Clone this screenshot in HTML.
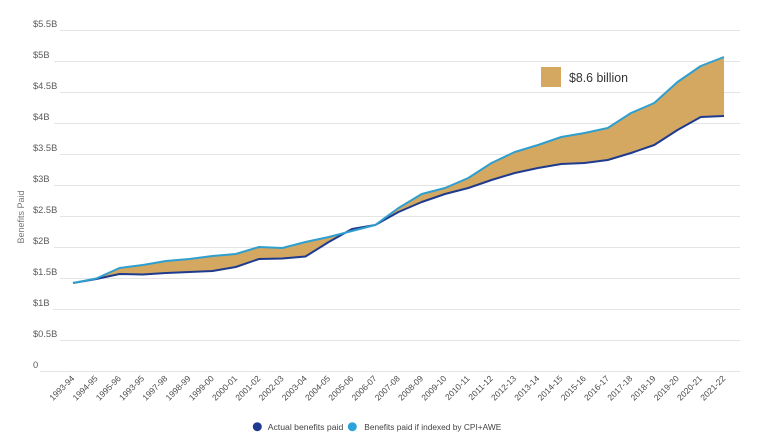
<!DOCTYPE html>
<html><head><meta charset="utf-8"><style>
html,body{margin:0;padding:0;background:#fff;}
svg{display:block;font-family:"Liberation Sans",Arial,sans-serif;}
</style></head><body>
<svg width="760" height="446" viewBox="0 0 760 446" xmlns="http://www.w3.org/2000/svg">
<rect width="760" height="446" fill="#fff"/>
<g stroke="#e4e4e4" stroke-width="1">
<line x1="40" y1="371.5" x2="740" y2="371.5"/>
<line x1="60" y1="340.5" x2="740" y2="340.5"/>
<line x1="53" y1="309.5" x2="740" y2="309.5"/>
<line x1="60" y1="278.5" x2="740" y2="278.5"/>
<line x1="54" y1="247.5" x2="740" y2="247.5"/>
<line x1="60" y1="216.5" x2="740" y2="216.5"/>
<line x1="54" y1="185.5" x2="740" y2="185.5"/>
<line x1="60" y1="154.5" x2="740" y2="154.5"/>
<line x1="54" y1="123.5" x2="740" y2="123.5"/>
<line x1="60" y1="92.5" x2="740" y2="92.5"/>
<line x1="54" y1="61.5" x2="740" y2="61.5"/>
<line x1="60" y1="30.5" x2="740" y2="30.5"/>
</g>
<g font-size="9.3" fill="#5a5a5a">
<text x="33" y="368">0</text>
<text x="33" y="337">$0.5B</text>
<text x="33" y="306">$1B</text>
<text x="33" y="275">$1.5B</text>
<text x="33" y="244">$2B</text>
<text x="33" y="213">$2.5B</text>
<text x="33" y="182">$3B</text>
<text x="33" y="151">$3.5B</text>
<text x="33" y="120">$4B</text>
<text x="33" y="89">$4.5B</text>
<text x="33" y="58">$5B</text>
<text x="33" y="27">$5.5B</text>
</g>
<text transform="translate(24,217) rotate(-90)" text-anchor="middle" font-size="9" fill="#777">Benefits Paid</text>

<polygon fill="#d4a860" points="73,283 96.25,278.5 119.5,268 142.75,265 166,261 189.25,259 212.5,256 235.75,254 259,247 282.25,248 305.5,242 328.75,237 352,231 375.25,225 398.5,208 421.75,194 445,188 468.25,178 491.5,163 514.75,152 538,145 561.25,137 584.5,133 607.75,128 631,113 654.25,103 677.5,82 700.75,66 724,57 724,116 700.75,117 677.5,130 654.25,145 631,153 607.75,160 584.5,163 561.25,164 538,168 514.75,173 491.5,180 468.25,188 445,194 421.75,202 398.5,212 375.25,225 352,229 328.75,242 305.5,256.5 282.25,258.5 259,259 235.75,267 212.5,271 189.25,272 166,273 142.75,274.5 119.5,274 96.25,279 73,283"/>
<polyline fill="none" stroke="#1f3b8f" stroke-width="2" stroke-linejoin="round" points="73,283 96.25,279 119.5,274 142.75,274.5 166,273 189.25,272 212.5,271 235.75,267 259,259 282.25,258.5 305.5,256.5 328.75,242 352,229 375.25,225 398.5,212 421.75,202 445,194 468.25,188 491.5,180 514.75,173 538,168 561.25,164 584.5,163 607.75,160 631,153 654.25,145 677.5,130 700.75,117 724,116"/>
<polyline fill="none" stroke="#2e9fcf" stroke-width="2" stroke-linejoin="round" points="73,283 96.25,278.5 119.5,268 142.75,265 166,261 189.25,259 212.5,256 235.75,254 259,247 282.25,248 305.5,242 328.75,237 352,231 375.25,225 398.5,208 421.75,194 445,188 468.25,178 491.5,163 514.75,152 538,145 561.25,137 584.5,133 607.75,128 631,113 654.25,103 677.5,82 700.75,66 724,57"/>

<rect x="541" y="67" width="20" height="20" fill="#d4a860"/>
<text x="569" y="82" font-size="12.5" fill="#333" textLength="59" lengthAdjust="spacingAndGlyphs">$8.6 billion</text>

<g font-size="8.5" fill="#4a4a4a" text-anchor="end">
<text transform="translate(75,379) rotate(-45)">1993-94</text>
<text transform="translate(98.25,379) rotate(-45)">1994-95</text>
<text transform="translate(121.5,379) rotate(-45)">1995-96</text>
<text transform="translate(144.75,379) rotate(-45)">1993-95</text>
<text transform="translate(168,379) rotate(-45)">1997-98</text>
<text transform="translate(191.25,379) rotate(-45)">1998-99</text>
<text transform="translate(214.5,379) rotate(-45)">1999-00</text>
<text transform="translate(237.75,379) rotate(-45)">2000-01</text>
<text transform="translate(261,379) rotate(-45)">2001-02</text>
<text transform="translate(284.25,379) rotate(-45)">2002-03</text>
<text transform="translate(307.5,379) rotate(-45)">2003-04</text>
<text transform="translate(330.75,379) rotate(-45)">2004-05</text>
<text transform="translate(354,379) rotate(-45)">2005-06</text>
<text transform="translate(377.25,379) rotate(-45)">2006-07</text>
<text transform="translate(400.5,379) rotate(-45)">2007-08</text>
<text transform="translate(423.75,379) rotate(-45)">2008-09</text>
<text transform="translate(447,379) rotate(-45)">2009-10</text>
<text transform="translate(470.25,379) rotate(-45)">2010-11</text>
<text transform="translate(493.5,379) rotate(-45)">2011-12</text>
<text transform="translate(516.75,379) rotate(-45)">2012-13</text>
<text transform="translate(540,379) rotate(-45)">2013-14</text>
<text transform="translate(563.25,379) rotate(-45)">2014-15</text>
<text transform="translate(586.5,379) rotate(-45)">2015-16</text>
<text transform="translate(609.75,379) rotate(-45)">2016-17</text>
<text transform="translate(633,379) rotate(-45)">2017-18</text>
<text transform="translate(656.25,379) rotate(-45)">2018-19</text>
<text transform="translate(679.5,379) rotate(-45)">2019-20</text>
<text transform="translate(702.75,379) rotate(-45)">2020-21</text>
<text transform="translate(726,379) rotate(-45)">2021-22</text>
</g>

<circle cx="257.3" cy="426.7" r="4.5" fill="#1f3b8f"/>
<text x="267.7" y="429.8" font-size="8.7" fill="#444" textLength="75.6" lengthAdjust="spacingAndGlyphs">Actual benefits paid</text>
<circle cx="352.3" cy="426.7" r="4.5" fill="#2ba3d9"/>
<text x="364.3" y="429.8" font-size="8.7" fill="#444" textLength="137" lengthAdjust="spacingAndGlyphs">Benefits paid if indexed by CPI+AWE</text>
</svg>
</body></html>
